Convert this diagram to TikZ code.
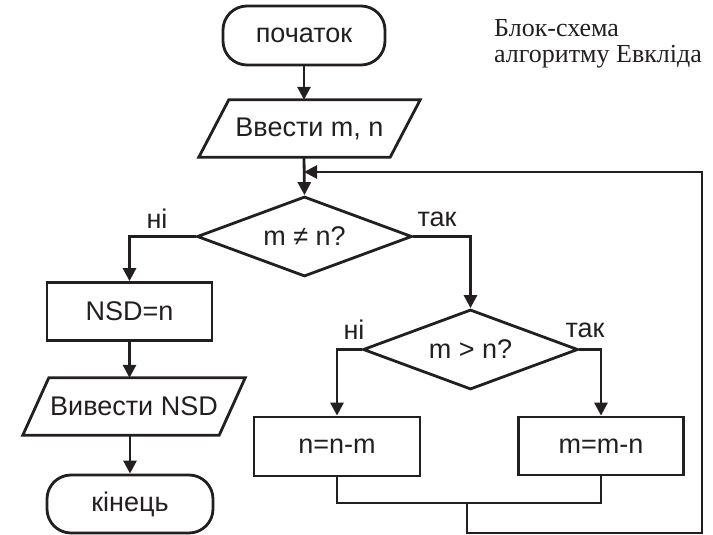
\documentclass[tikz,border=0pt]{standalone}
\usepackage{fontspec}
\setmainfont{Liberation Sans}
\newfontfamily\titlefont{Liberation Serif}
\usetikzlibrary{shapes.geometric,arrows.meta,calc}
\definecolor{ink}{HTML}{231F20}
\begin{document}
\begin{tikzpicture}[x=1pt,y=-1pt,
  every node/.style={font=\fontsize{27}{32}\selectfont, text=ink},
  line/.style={draw=ink, line width=2.8pt},
  arr/.style={line, -{Triangle[length=13pt,width=13pt]}},
  term/.style={line, rectangle, rounded corners=24pt, minimum width=162pt, minimum height=59pt, inner sep=0pt},
  proc/.style={line, rectangle, minimum width=165pt, minimum height=58pt, inner sep=0pt},
  io/.style={rectangle, minimum width=#1, minimum height=57pt, inner sep=0pt},
  dec/.style={line, diamond, aspect=2.65, minimum width=215pt, minimum height=80pt, inner sep=0pt},
  lbl/.style={inner sep=0pt}
]
\useasboundingbox (0,0) rectangle (713,535);

\node[term] (start) at (304,35.5) {початок};
\node[io=221pt] (in) at (309.5,128.5) {Ввести m, n};
\draw[line] ($(in.north west)+(30,0)$) -- (in.north east) -- ($(in.south east)+(-30,0)$) -- (in.south west) -- cycle;
\node[dec] (d1) at (304.5,236.5) {m ≠ n?};
\node[proc] (nsd) at (129.5,311.5) {NSD=n};
\node[io=222pt] (out) at (134,406.5) {Вивести NSD};
\draw[line] ($(out.north west)+(26,0)$) -- (out.north east) -- ($(out.south east)+(-26,0)$) -- (out.south west) -- cycle;
\node[term, minimum width=166pt, minimum height=58pt] (end) at (130,504) {кінець};
\node[dec] (d2) at (470.5,349.5) {m > n?};
\node[proc, minimum width=166pt, minimum height=59pt] (a) at (337,446.5) {n=n-m};
\node[proc] (b) at (601,446) {m=m-n};

\coordinate (j) at (304,172);
\coordinate (jb) at (467,503);
\coordinate (loopa) at (702,533);

\draw[arr] (start) -- (start.south |- in.north);
\draw[arr] (start.south |- in.south) -- (d1.north);
\draw[arr] (d1.west) -| (nsd.north);
\draw[arr] (nsd) -- (nsd.south |- out.north);
\draw[arr] (end.north |- out.south) -- (end.north);
\draw[arr] (d1.east) -| (d2.north);
\draw[arr] (d2.west) -| (a.north);
\draw[arr] (d2.east) -| (b.north);
\draw[line] (a.south) -- (a.south |- jb) -| (b.south);
\draw[arr] (jb) |- (loopa) |- (j);

\node[lbl] (l1) at (157,219) {ні};
\node[lbl] (l2) at (437,219) {так};
\node[lbl] (l3) at (354,330) {ні};
\node[lbl] (l4) at (585,330) {так};

\node[lbl, anchor=north west, align=left, font=\titlefont\fontsize{26}{26}\selectfont] (title) at (494,19) {Блок-схема\\алгоритму Евкліда};
\end{tikzpicture}
\end{document}
